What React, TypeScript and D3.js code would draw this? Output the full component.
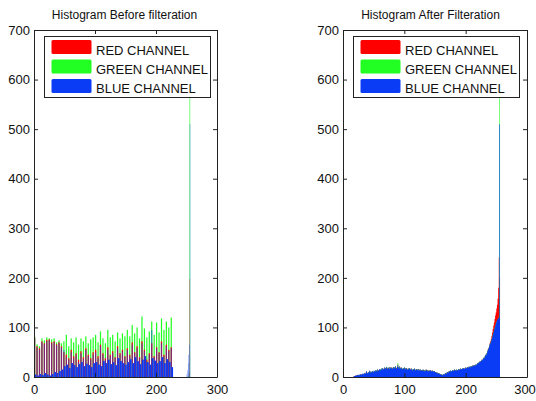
import React, { useEffect, useRef } from "react";
import * as d3 from "d3";

const channelNames = ["RED CHANNEL", "GREEN CHANNEL", "BLUE CHANNEL"];
const channelColors = ["#ff0000", "#22ff22", "#0a3cf5"];
const yTicks = [0, 100, 200, 300, 400, 500, 600, 700];
const xTicks = [0, 100, 200, 300];

// before filtering: sparse histogram, one spike every 4 levels
const beforeBins = [
  0, 4, 8, 12, 16, 20, 24, 28, 32, 36, 40, 44,
  48, 52, 56, 60, 64, 68, 72, 76, 80, 84, 88, 92, 96,
  100, 104, 108, 112, 116, 120, 124, 128, 132, 136, 140, 144, 148,
  152, 156, 160, 164, 168, 172, 176, 180, 184, 188, 192, 196, 200,
  204, 208, 212, 216, 220, 224
];
const beforeRed = [
  80, 62, 58, 72, 68, 75, 76, 70, 72, 66, 70, 62,
  50, 45, 38, 55, 42, 48, 35, 52, 40, 58, 45, 38, 50,
  55, 42, 65, 48, 38, 60, 45, 52, 40, 62, 48, 55, 42,
  58, 45, 70, 50, 62, 40, 72, 55, 35, 48, 68, 42, 60,
  50, 72, 45, 65, 55, 60
];
const beforeGreen = [
  82, 66, 62, 78, 74, 80, 78, 76, 78, 70, 74, 68,
  72, 85, 62, 78, 70, 80, 65, 78, 72, 82, 68, 76, 80,
  85, 70, 92, 78, 68, 95, 80, 85, 72, 90, 78, 88, 82,
  95, 82, 105, 88, 100, 78, 122, 98, 80, 92, 112, 85, 110,
  90, 118, 95, 112, 100, 120
];
const beforeBlue = [
  78, 60, 55, 70, 66, 72, 74, 68, 70, 64, 68, 60,
  55, 40, 35, 50, 38, 45, 30, 48, 36, 55, 42, 35, 45,
  50, 38, 62, 45, 35, 55, 42, 48, 38, 58, 45, 52, 40,
  55, 42, 65, 48, 58, 38, 68, 52, 30, 45, 95, 40, 58,
  48, 68, 42, 62, 52, 58
];
// blue counts at the levels between the spikes
const beforeBlueFill = [
  5, 3, 6, 4, 8, 5, 3, 6, 10, 8, 12, 15,
  22, 25, 18, 28, 24, 20, 26, 30, 22, 27, 24, 20, 28,
  30, 25, 22, 32, 28, 35, 26, 30, 24, 38, 32, 28, 25,
  30, 36, 28, 40, 32, 26, 35, 42, 30, 25, 38, 33, 28,
  32, 40, 28, 36, 30, 20
];
const peakBins = [250, 251, 252, 253, 254, 255];
const beforePeakRed = [0, 0, 0, 0, 8, 197];
const beforePeakGreen = [0, 0, 0, 2, 10, 575];
const beforePeakBlue = [6, 14, 28, 45, 65, 510];

// after filtering: dense histogram, levels 0..255
const afterBins = d3.range(256);
const afterRed = [
  0, 0, 0, 0, 0, 0, 0, 0, 0, 0, 0, 0, 0, 0, 0, 0,
  0, 1, 1, 2, 3, 3, 3, 4, 4, 4, 3, 5, 5, 5, 5, 6,
  6, 6, 7, 7, 7, 9, 10, 9, 8, 10, 10, 12, 11, 9, 10, 12,
  11, 10, 12, 12, 11, 14, 13, 12, 15, 13, 14, 15, 14, 15, 16, 15,
  17, 17, 16, 19, 18, 17, 19, 18, 17, 19, 18, 17, 20, 19, 18, 19,
  17, 19, 20, 19, 19, 21, 19, 18, 21, 26, 20, 18, 21, 19, 17, 19,
  17, 16, 18, 17, 19, 18, 16, 18, 17, 15, 17, 16, 18, 17, 15, 17,
  15, 14, 16, 15, 17, 15, 14, 16, 15, 15, 14, 16, 15, 13, 15, 14,
  14, 13, 15, 14, 12, 14, 13, 15, 14, 13, 14, 12, 13, 13, 14, 13,
  12, 13, 12, 11, 12, 11, 10, 10, 9, 9, 8, 8, 7, 7, 6, 6,
  5, 5, 4, 5, 6, 5, 7, 8, 7, 9, 10, 9, 11, 12, 11, 13,
  12, 12, 14, 13, 13, 15, 14, 14, 13, 15, 14, 14, 16, 15, 15, 17,
  16, 16, 17, 17, 18, 17, 17, 19, 18, 18, 20, 19, 19, 21, 20, 20,
  22, 21, 21, 23, 22, 24, 23, 23, 25, 24, 26, 28, 28, 29, 31, 32,
  32, 33, 35, 35, 37, 39, 39, 42, 45, 45, 48, 52, 56, 59, 63, 68,
  72, 77, 83, 90, 97, 104, 110, 117, 124, 130, 138, 146, 158, 180, 241, 200
];
const afterGreen = [
  0, 0, 0, 0, 0, 0, 0, 0, 0, 0, 0, 0, 0, 0, 0, 0,
  0, 0, 1, 2, 2, 2, 3, 3, 4, 4, 3, 4, 5, 4, 5, 6,
  6, 5, 7, 7, 6, 8, 11, 8, 7, 10, 9, 12, 11, 8, 10, 12,
  11, 9, 12, 12, 10, 14, 13, 11, 15, 12, 14, 16, 13, 15, 17, 14,
  18, 16, 15, 19, 17, 16, 21, 18, 15, 19, 17, 16, 20, 18, 17, 19,
  16, 18, 20, 17, 20, 22, 18, 16, 21, 28, 19, 17, 22, 18, 16, 19,
  17, 15, 18, 16, 20, 17, 15, 18, 16, 14, 17, 15, 18, 16, 14, 17,
  15, 13, 16, 14, 17, 15, 13, 16, 14, 15, 13, 16, 14, 12, 15, 13,
  14, 12, 15, 13, 11, 14, 12, 15, 13, 12, 14, 11, 13, 12, 14, 12,
  11, 13, 12, 10, 12, 11, 9, 10, 8, 9, 7, 8, 6, 7, 5, 6,
  4, 5, 3, 5, 6, 4, 7, 8, 6, 9, 10, 8, 11, 12, 10, 13,
  12, 11, 14, 13, 12, 15, 13, 14, 12, 15, 14, 13, 16, 14, 15, 17,
  16, 15, 17, 16, 18, 17, 16, 19, 18, 17, 20, 19, 18, 21, 20, 19,
  22, 21, 20, 23, 22, 24, 23, 22, 25, 24, 26, 28, 27, 29, 30, 32,
  31, 33, 35, 34, 37, 39, 38, 42, 45, 44, 48, 52, 55, 58, 62, 66,
  68, 72, 76, 80, 85, 90, 95, 100, 104, 108, 112, 115, 117, 118, 122, 575
];
const afterBlue = [
  0, 0, 0, 0, 0, 0, 0, 0, 0, 0, 0, 0, 0, 0, 0, 0,
  0, 1, 2, 2, 3, 2, 4, 3, 5, 4, 3, 5, 6, 4, 5, 7,
  6, 5, 8, 7, 6, 9, 12, 8, 7, 10, 9, 13, 11, 8, 10, 12,
  11, 9, 13, 12, 10, 14, 13, 11, 15, 12, 14, 16, 13, 15, 17, 14,
  18, 16, 15, 19, 17, 16, 20, 18, 15, 19, 17, 16, 20, 18, 17, 19,
  16, 18, 20, 17, 19, 22, 18, 16, 20, 24, 19, 17, 21, 18, 16, 19,
  17, 15, 18, 16, 19, 17, 15, 18, 16, 14, 17, 15, 18, 16, 14, 17,
  15, 13, 16, 14, 17, 15, 13, 16, 14, 15, 13, 16, 14, 12, 15, 13,
  14, 12, 15, 13, 11, 14, 12, 15, 13, 12, 14, 11, 13, 12, 14, 12,
  11, 13, 12, 10, 12, 11, 9, 10, 8, 9, 7, 8, 6, 7, 5, 6,
  4, 5, 3, 5, 6, 4, 7, 8, 6, 9, 10, 8, 11, 12, 10, 13,
  12, 11, 14, 13, 12, 15, 13, 14, 12, 15, 14, 13, 16, 14, 15, 17,
  16, 15, 17, 16, 18, 17, 16, 19, 18, 17, 20, 19, 18, 21, 20, 19,
  22, 21, 20, 23, 22, 24, 23, 22, 25, 24, 26, 28, 27, 29, 30, 32,
  31, 33, 35, 34, 37, 39, 38, 42, 45, 44, 48, 52, 55, 58, 62, 66,
  68, 72, 76, 80, 85, 90, 95, 100, 104, 108, 112, 115, 117, 118, 120, 510
];

const axisColor = "#222";
const fontFamily = "'Liberation Sans', Arial, sans-serif";

function drawAxes(g, x, y, title, titleX) {
  const [x0, x1] = x.range();
  const [yb, yt] = y.range();

  const style = sel => {
    sel.attr("font-family", fontFamily).attr("font-size", 13).style("color", axisColor);
    sel.selectAll("text").attr("fill", "#111");
  };

  g.append("g")
    .attr("transform", `translate(${x0},0)`)
    .call(d3.axisLeft(y).tickValues(yTicks).tickSizeInner(-4).tickSizeOuter(0).tickPadding(4))
    .call(style);
  g.append("g")
    .attr("transform", `translate(${x1},0)`)
    .call(d3.axisRight(y).tickValues(yTicks).tickSizeInner(-4).tickSizeOuter(0).tickFormat(() => ""))
    .call(style);
  const bottom = g.append("g")
    .attr("transform", `translate(0,${yb})`)
    .call(d3.axisBottom(x).tickValues(xTicks).tickSizeInner(-4).tickSizeOuter(0).tickPadding(8))
    .call(style);
  // keep the last label inside the window
  bottom.selectAll("text").filter(d => d === 300).attr("dx", x1 > 500 ? -2.5 : 0);
  g.append("g")
    .attr("transform", `translate(0,${yt})`)
    .call(d3.axisTop(x).tickValues(xTicks).tickSizeInner(-4).tickSizeOuter(0).tickFormat(() => ""))
    .call(style);

  g.append("text")
    .attr("x", titleX)
    .attr("y", 18.5)
    .attr("text-anchor", "middle")
    .attr("font-family", fontFamily)
    .attr("font-size", 12)
    .attr("fill", "#111")
    .text(title);
}

function drawLegend(g, x0) {
  const lg = g.append("g").attr("transform", `translate(${x0},0)`);
  lg.append("rect")
    .attr("x", 10.5)
    .attr("y", 36.5)
    .attr("width", 166)
    .attr("height", 61)
    .attr("fill", "#fff")
    .attr("stroke", axisColor);
  channelNames.forEach((name, i) => {
    lg.append("rect")
      .attr("x", 17.5)
      .attr("y", 40 + i * 19.5)
      .attr("width", 40)
      .attr("height", 14)
      .attr("rx", 1.5)
      .attr("fill", channelColors[i]);
    lg.append("text")
      .attr("x", 62)
      .attr("y", 55 + i * 19)
      .attr("font-family", fontFamily)
      .attr("font-size", 13)
      .attr("fill", "#111")
      .text(name);
  });
}

function drawBefore(svg) {
  const x = d3.scaleLinear().domain([0, 300]).range([34, 217]);
  const y = d3.scaleLinear().domain([0, 700]).range([377, 30]);
  const g = svg.append("g");
  const bars = g.append("g");
  const h = v => y(0) - y(v);

  // overlapping channel spikes; blue is translucent so red+blue reads purple
  const spikes = [
    { vals: beforeGreen, c: channelColors[1], o: 1 },
    { vals: beforeRed, c: channelColors[0], o: 1 },
    { vals: beforeBlue, c: channelColors[2], o: 0.5 }
  ];
  spikes.forEach(s => {
    bars.append("g").selectAll("rect").data(beforeBins).enter().append("rect")
      .attr("x", b => x(b))
      .attr("width", x(2) - x(0))
      .attr("y", (b, i) => y(s.vals[i]))
      .attr("height", (b, i) => h(s.vals[i]))
      .attr("fill", s.c)
      .attr("fill-opacity", s.o);
  });

  // blue counts between spikes
  bars.append("g").selectAll("rect").data(beforeBins).enter().append("rect")
    .attr("x", b => x(b + 1))
    .attr("width", x(3) - x(0))
    .attr("y", (b, i) => y(beforeBlueFill[i]))
    .attr("height", (b, i) => h(beforeBlueFill[i]))
    .attr("fill", channelColors[2]);

  const peaks = [
    { vals: beforePeakGreen, off: 0, w: 1, c: channelColors[1] },
    { vals: beforePeakRed, off: 0, w: 0.5, c: channelColors[0] },
    { vals: beforePeakBlue, off: 0.5, w: 0.5, c: channelColors[2] }
  ];
  peaks.forEach(s => {
    bars.append("g").selectAll("rect").data(peakBins).enter().append("rect")
      .attr("x", b => x(b + s.off))
      .attr("width", x(s.w) - x(0))
      .attr("y", (b, i) => y(s.vals[i]))
      .attr("height", (b, i) => h(s.vals[i]))
      .attr("fill", s.c);
  });

  drawAxes(g, x, y, "Histogram Before filteration", 124.5);
  drawLegend(g, 34);
}

function drawAfter(svg) {
  const x = d3.scaleLinear().domain([0, 300]).range([343, 527]);
  const y = d3.scaleLinear().domain([0, 700]).range([377, 30]);
  const g = svg.append("g");

  const area = d3.area()
    .curve(d3.curveStepAfter)
    .x(d => x(d[0]))
    .y0(y(0))
    .y1(d => y(d[1]));

  [afterRed, afterGreen, afterBlue].forEach((vals, c) => {
    const pts = afterBins.map((b, i) => [b, vals[i]]);
    pts.push([256, vals[vals.length - 1]]);
    g.append("path")
      .attr("d", area(pts))
      .attr("fill", channelColors[c]);
  });

  drawAxes(g, x, y, "Histogram After Filteration", 430.5);
  drawLegend(g, 343);
}

export default function App() {
  const ref = useRef(null);

  useEffect(() => {
    const svg = d3.select(ref.current);
    svg.selectAll("*").remove();
    drawBefore(svg);
    drawAfter(svg);
  }, []);

  return (
    <div style={{ position: "absolute", left: 0, top: 0, width: 536, height: 401, background: "#fff" }}>
      <svg ref={ref} width={536} height={401} style={{ display: "block" }} />
    </div>
  );
}
